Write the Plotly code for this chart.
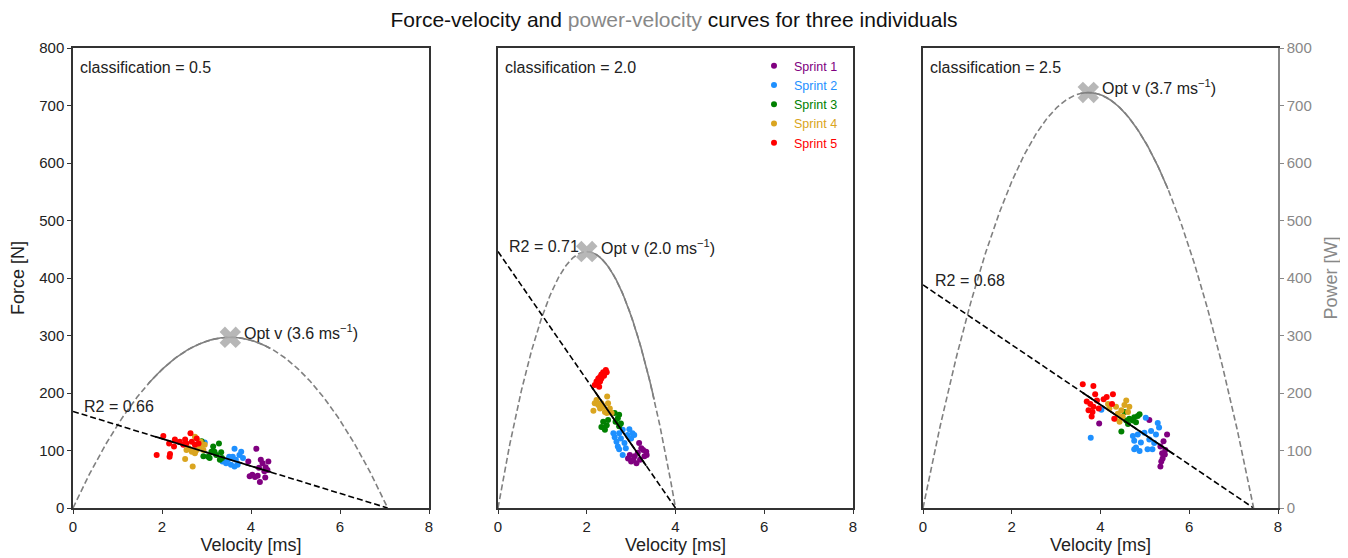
import plotly.graph_objects as go
import numpy as np

# ---------------- data ----------------
classifications = ["0.5", "2.0", "2.5"]
r2_values = ["0.66", "0.71", "0.68"]
opt_v_labels = ["3.6", "2.0", "3.7"]
F0 = [168, 446, 388]          # force intercepts [N]
V0 = [7.07, 4.0, 7.45]        # velocity intercepts [m/s]
force_solid = [(1.85, 4.45), (2.12, 3.34), (3.6, 5.66)]
power_solid = [(1.7, 4.43), (2.0, 3.52), (3.55, 5.52)]

sprint_names = ["Sprint 1", "Sprint 2", "Sprint 3", "Sprint 4", "Sprint 5"]
sprint_colors = ["#800080", "#1E90FF", "#008000", "#DAA520", "#FF0000"]

# panel 1 (classification 0.5): velocity / force per sprint
p1_v = [
    [3.94, 3.97, 4.03, 4.09, 4.12, 4.15, 4.20, 4.22, 4.26, 4.30, 4.33, 4.37, 4.39, 4.18, 4.32],
    [2.96, 3.36, 3.48, 3.55, 3.59, 3.63, 3.66, 3.70, 3.74, 3.78, 3.82, 3.44, 3.63, 3.51],
    [2.89, 2.93, 3.04, 3.11, 3.15, 3.22, 3.28, 3.33, 3.35, 3.07, 3.18, 3.30],
    [2.52, 2.69, 2.74, 2.60, 2.67, 2.78, 2.85, 2.93, 2.96, 2.55, 2.74, 2.87],
    [1.88, 2.03, 2.16, 2.18, 2.17, 2.29, 2.27, 2.40, 2.52, 2.55, 2.64, 2.67, 2.74, 2.78, 2.82, 2.48],
]
p1_f = [
    [81, 55, 58, 54, 103, 56, 45, 84, 78, 64, 71, 66, 81, 70, 53],
    [114, 81, 84, 75, 89, 103, 84, 75, 92, 98, 87, 78, 72, 89],
    [116, 90, 89, 98, 107, 92, 112, 97, 87, 87, 98, 84],
    [85, 72, 124, 104, 98, 101, 107, 101, 110, 101, 95, 115],
    [92, 125, 112, 94, 89, 119, 107, 115, 119, 112, 130, 115, 110, 121, 112, 110],
]

# panel 2 (classification 2.0)
p2_v = [
    [2.93, 2.97, 3.05, 3.08, 3.12, 3.15, 3.18, 3.20, 3.23, 3.27, 3.30, 3.34, 3.35, 3.00],
    [2.60, 2.63, 2.67, 2.70, 2.73, 2.77, 2.81, 2.85, 2.88, 2.92, 2.96, 3.00, 3.03, 3.07, 2.81, 2.73],
    [2.37, 2.33, 2.41, 2.45, 2.48, 2.63, 2.65, 2.70, 2.73, 2.77, 2.73, 2.39],
    [2.15, 2.18, 2.22, 2.26, 2.30, 2.33, 2.37, 2.41, 2.46, 2.48, 2.52, 2.56, 2.45],
    [2.18, 2.22, 2.26, 2.30, 2.33, 2.37, 2.43, 2.45, 2.30, 2.24, 2.39, 2.33, 2.28],
]
p2_f = [
    [86, 92, 84, 90, 78, 96, 113, 84, 104, 101, 90, 98, 92, 81],
    [130, 123, 115, 107, 130, 121, 136, 113, 104, 127, 137, 121, 130, 127, 92, 102],
    [150, 141, 136, 144, 153, 165, 150, 156, 162, 147, 142, 139],
    [169, 182, 188, 179, 173, 182, 176, 167, 194, 182, 173, 165, 165],
    [214, 220, 225, 228, 232, 236, 240, 236, 220, 216, 230, 225, 211],
]

# panel 3 (classification 2.5)
p3_v = [
    [3.97, 5.10, 5.35, 5.39, 5.42, 5.46, 5.50, 5.40, 5.35, 5.37, 5.45],
    [3.78, 4.02, 4.73, 4.76, 4.80, 4.84, 4.91, 4.99, 5.02, 5.06, 5.10, 5.14, 5.17, 5.21, 5.25, 5.29, 5.32, 4.88, 4.76],
    [4.47, 4.58, 4.65, 4.73, 4.76, 4.80, 4.84, 4.88, 4.62, 4.54],
    [4.17, 4.20, 4.35, 4.39, 4.43, 4.47, 4.50, 4.54, 4.58, 4.62, 4.65, 4.34],
    [3.60, 3.84, 3.88, 3.69, 3.73, 3.77, 3.80, 3.84, 3.92, 3.96, 4.07, 4.14, 4.28, 4.31, 4.26, 3.82],
]
p3_f = [
    [147, 153, 107, 95, 116, 101, 128, 86, 72, 81, 93],
    [122, 171, 125, 117, 105, 128, 114, 131, 157, 102, 119, 134, 102, 113, 128, 148, 140, 99, 102],
    [133, 152, 155, 152, 158, 149, 160, 163, 146, 167],
    [181, 173, 176, 164, 150, 170, 159, 179, 187, 167, 176, 155],
    [215, 212, 198, 185, 170, 181, 159, 176, 187, 173, 189, 193, 198, 155, 181, 167],
]

panel_v = [p1_v, p2_v, p3_v]
panel_f = [p1_f, p2_f, p3_f]

# ---------------- figure ----------------
# the page body has an 8px margin, so the figure is laid out in screen pixels minus 8
OFF = 8
W, H = 1340, 550
FONT = "Liberation Sans, Arial, sans-serif"
TXT = "#222222"


def px(x):
    return (x - OFF) / W


def py(y):
    return 1 - (y - OFF) / H


xdom = [(px(73), px(429)), (px(498), px(853)), (px(923), px(1278))]
ydom = (py(508), py(48))

fig = go.Figure()
axn = ["", "2", "3"]

for i in range(3):
    xa, ya = "x" + axn[i], "y" + axn[i]
    pya = "y4" if i == 2 else ya   # power curve on the power axis in the last panel
    f0, v0 = F0[i], V0[i]

    # power curve (dashed full, solid over data range)
    vv = np.linspace(0, v0, 300)
    fig.add_trace(go.Scatter(x=vv, y=f0 * vv * (1 - vv / v0), mode="lines",
                             line=dict(color="#808080", width=1.6, dash="6px,3px"),
                             xaxis=xa, yaxis=pya, showlegend=False, hoverinfo="skip"))
    lo, hi = power_solid[i]
    vs = np.linspace(lo, hi, 200)
    fig.add_trace(go.Scatter(x=vs, y=f0 * vs * (1 - vs / v0), mode="lines",
                             line=dict(color="#808080", width=1.6),
                             xaxis=xa, yaxis=pya, showlegend=False, hoverinfo="skip"))

    # force-velocity line
    fig.add_trace(go.Scatter(x=[0, v0], y=[f0, 0], mode="lines",
                             line=dict(color="black", width=1.6, dash="6px,3px"),
                             xaxis=xa, yaxis=ya, showlegend=False, hoverinfo="skip"))

    # sprint points
    for s in range(5):
        fig.add_trace(go.Scatter(x=panel_v[i][s], y=panel_f[i][s], mode="markers",
                                 marker=dict(color=sprint_colors[s], size=6),
                                 name="<span style='color:%s'>%s</span>" % (sprint_colors[s], sprint_names[s]),
                                 legendgroup=sprint_names[s],
                                 showlegend=(i == 1),
                                 xaxis=xa, yaxis=ya))

    lo, hi = force_solid[i]
    fig.add_trace(go.Scatter(x=[lo, hi], y=[f0 * (1 - lo / v0), f0 * (1 - hi / v0)], mode="lines",
                             line=dict(color="black", width=1.8),
                             xaxis=xa, yaxis=ya, showlegend=False, hoverinfo="skip"))

    # optimal velocity marker
    vopt = v0 / 2
    popt = f0 * v0 / 4
    fig.add_trace(go.Scatter(x=[vopt], y=[popt], mode="markers",
                             marker=dict(symbol="x", size=19, color="rgba(170,170,170,0.85)",
                                         line=dict(width=0)),
                             xaxis=xa, yaxis=ya, showlegend=False, hoverinfo="skip"))
    fig.add_annotation(x=vopt, y=popt, xref=xa, yref=ya, xanchor="left", yanchor="middle",
                       xshift=12, yshift=5, showarrow=False,
                       text="Opt v (%s ms<sup>−1</sup>)" % opt_v_labels[i],
                       font=dict(family=FONT, size=16, color=TXT))

    # R2 label
    r2_pos = [(0.2, 177), (0.2, 454), (0.22, 396)][i]
    fig.add_annotation(x=r2_pos[0], y=r2_pos[1], xref=xa, yref=ya, xanchor="left", yanchor="middle",
                       showarrow=False, text="R2 = %s" % r2_values[i],
                       font=dict(family=FONT, size=16, color=TXT))

    # classification label
    fig.add_annotation(x=0.015, y=0.958, xref=xa + " domain", yref=ya + " domain",
                       xanchor="left", yanchor="middle", showarrow=False,
                       text="classification = %s" % classifications[i],
                       font=dict(family=FONT, size=16, color=TXT))

axis_common = dict(showgrid=False, zeroline=False, showline=True, linecolor="#333333", linewidth=1.5,
                   ticks="outside", ticklen=4, tickcolor="#333333", automargin=False,
                   tickfont=dict(family=FONT, size=15, color=TXT))

for i in range(3):
    xk = "xaxis" + axn[i]
    yk = "yaxis" + axn[i]
    fig.layout[xk] = dict(axis_common, domain=xdom[i], anchor="y" + axn[i], range=[0, 8],
                          tickvals=[0, 2, 4, 6, 8], mirror=True,
                          title=dict(text="Velocity [ms]", font=dict(family=FONT, size=18, color=TXT),
                                     standoff=5))
    ycfg = dict(axis_common, domain=ydom, anchor="x" + axn[i], range=[0, 800],
                tickvals=list(range(0, 801, 100)), mirror=(i < 2))
    if i == 0:
        ycfg["title"] = dict(text="Force [N]", font=dict(family=FONT, size=18, color=TXT), standoff=10)
    else:
        ycfg["showticklabels"] = False
        ycfg["ticks"] = ""
    fig.layout[yk] = ycfg

fig.layout["yaxis4"] = dict(showgrid=False, zeroline=False, showline=True, linecolor="#888888", linewidth=1.5,
                            ticks="outside", ticklen=4, tickcolor="#888888", automargin=False,
                            tickfont=dict(family=FONT, size=15, color="#888888"),
                            overlaying="y3", anchor="x3", side="right", range=[0, 800],
                            tickvals=list(range(0, 801, 100)),
                            title=dict(text="Power [W]", font=dict(family=FONT, size=18, color="#888888"),
                                       standoff=14))

fig.update_layout(
    width=W, height=H,
    margin=dict(l=0, r=0, t=0, b=0, autoexpand=False),
    paper_bgcolor="white", plot_bgcolor="white",
    title=dict(text="Force-velocity and <span style='color:#888888'>power-velocity</span> curves for three individuals",
               x=px(674), xanchor="center", y=py(20), yanchor="middle",
               font=dict(family=FONT, size=21, color="#111111")),
    legend=dict(x=px(754), y=py(51), xanchor="left", yanchor="top",
                bgcolor="rgba(0,0,0,0)", font=dict(family=FONT, size=12.5),
                itemwidth=30, tracegroupgap=0),
    showlegend=True,
)

fig.write_html("out.html")
